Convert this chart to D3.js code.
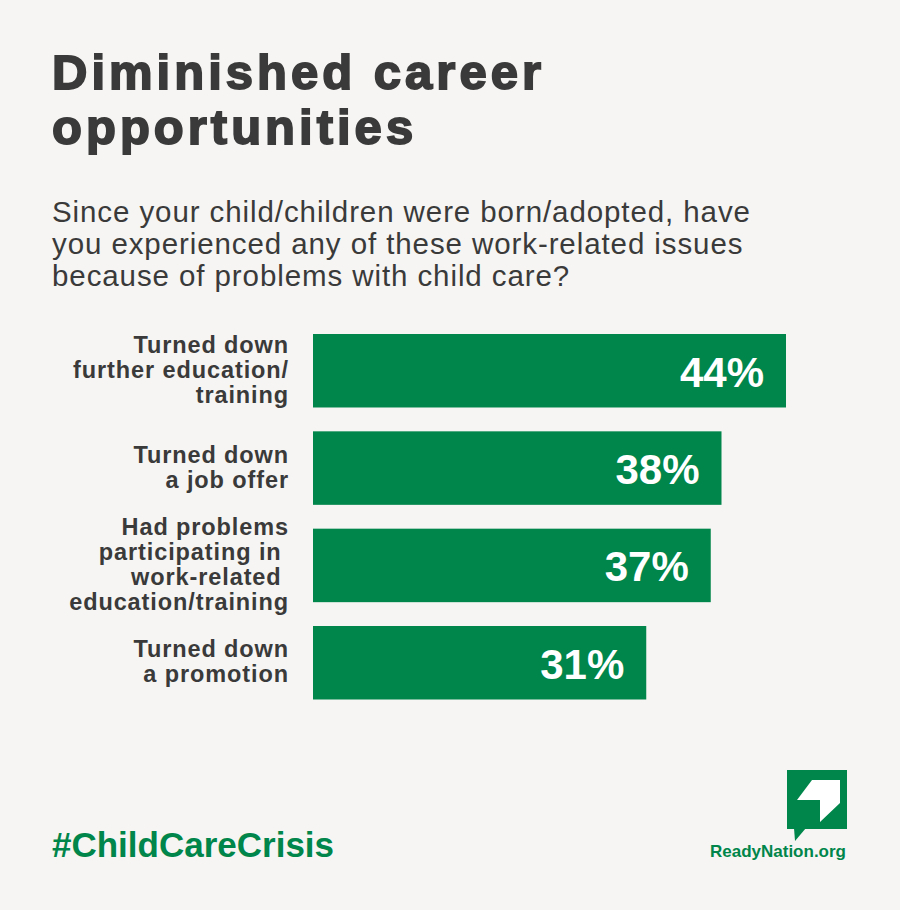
<!DOCTYPE html>
<html>
<head>
<meta charset="utf-8">
<script src="https://cdn.jsdelivr.net/npm/d3@7"></script>
<style>
  body { margin: 0; background: #f6f5f3; }
  svg text { font-family: "Liberation Sans", Arial, sans-serif; }
</style>
</head>
<body>
<div id="chart"></div>
<script>
// chart data
const titleLines = ["Diminished career", "opportunities"];
const subtitleLines = [
    "Since your child/children were born/adopted, have",
    "you experienced any of these work-related issues",
    "because of problems with child care?"
];
const categories = [
    ["Turned down", "further education/", "training"],
    ["Turned down", "a job offer"],
    ["Had problems", "participating in ", "work-related ", "education/training"],
    ["Turned down", "a promotion"]
];
const values = [44, 38, 37, 31];
const valueLabels = ["44%", "38%", "37%", "31%"];
const hashtag = "#ChildCareCrisis";
const siteName = "ReadyNation.org";

const width = 900, height = 910;
const green = "#00854a", dark = "#3a3a3a";

const svg = d3.select("#chart").append("svg")
    .attr("width", width)
    .attr("height", height);

svg.append("rect")
    .attr("width", width)
    .attr("height", height)
    .attr("fill", "#f6f5f3");

// stretch letter spacing so a line reaches a given width
function spacingFor(node, w){
    let n = node.textContent.length;
    let natural = node.getComputedTextLength();
    return (w - natural) / (n - 1);
}

// title
let title = svg.append("text")
    .style("font-size", "49px")
    .style("font-weight", 700)
    .attr("fill", dark)
    .attr("stroke", dark)
    .attr("stroke-width", 1.8);
title.selectAll("tspan")
    .data(titleLines)
    .enter().append("tspan")
    .attr("x", 52)
    .attr("y", (d, i) => 89 + i * 55)
    .text(d => d);
let tSp = spacingFor(title.select("tspan").node(), 489);
title.style("letter-spacing", tSp + "px");

// question
let sub = svg.append("text")
    .style("font-size", "29.5px")
    .attr("fill", dark);
sub.selectAll("tspan")
    .data(subtitleLines)
    .enter().append("tspan")
    .attr("x", 52)
    .attr("y", (d, i) => 222 + i * 32)
    .text(d => d);
let sSp = spacingFor(sub.select("tspan").node(), 698);
sub.style("letter-spacing", sSp + "px");

// scales
let x = d3.scaleLinear()
    .domain([0, 44])
    .range([313, 786]);

let y = d3.scaleBand()
    .domain(d3.range(values.length))
    .range([334, 699.5])
    .paddingInner(0.245)
    .paddingOuter(0);

// bars
svg.selectAll(".bar")
    .data(values)
    .enter().append("rect")
    .attr("class", "bar")
    .attr("x", x(0))
    .attr("y", (d, i) => y(i))
    .attr("width", d => x(d) - x(0))
    .attr("height", y.bandwidth())
    .attr("fill", green);

svg.selectAll(".value")
    .data(values)
    .enter().append("text")
    .attr("class", "value")
    .attr("x", d => x(d) - 22)
    .attr("y", (d, i) => y(i) + y.bandwidth() / 2 + 16)
    .text((d, i) => valueLabels[i])
    .style("font-size", "42px")
    .style("font-weight", 700)
    .style("text-anchor", "end")
    .attr("fill", "#ffffff");

// category labels
let labels = svg.selectAll(".label")
    .data(categories)
    .enter().append("text")
    .attr("class", "label")
    .style("font-size", "23.5px")
    .style("font-weight", 700)
    .style("text-anchor", "end")
    .style("white-space", "pre")
    .attr("fill", dark);

labels.each(function(lines, i){
    let mid = y(i) + y.bandwidth() / 2;
    d3.select(this).selectAll("tspan")
        .data(lines)
        .enter().append("tspan")
        .attr("x", 289)
        .attr("y", (d, j) => mid + (j - (lines.length - 1) / 2) * 25 + 7)
        .text(d => d);
});

let probe = svg.append("text")
    .text("further education/")
    .style("font-size", "23.5px")
    .style("font-weight", 700);
let lSp = spacingFor(probe.node(), 215);
probe.remove();
labels.style("letter-spacing", lSp + "px");

// footer
svg.append("text")
    .attr("x", 52)
    .attr("y", 857)
    .text(hashtag)
    .style("font-size", "35px")
    .style("font-weight", 700)
    .attr("fill", green);

svg.append("text")
    .attr("x", 846)
    .attr("y", 857)
    .text(siteName)
    .style("font-size", "17px")
    .style("font-weight", 700)
    .style("text-anchor", "end")
    .attr("fill", green);

// logo
let logo = svg.append("g")
    .attr("transform", "translate(787,770)");
logo.append("rect")
    .attr("width", 60)
    .attr("height", 59)
    .attr("fill", green);
logo.append("path")
    .attr("d", "M7,58 L19,58 L8,71 Z")
    .attr("fill", green);
logo.append("path")
    .attr("d", "M10,30 L25,10 L53,10 L53,33 L33,52 L33,30 Z")
    .attr("fill", "#ffffff");
</script>
</body>
</html>
